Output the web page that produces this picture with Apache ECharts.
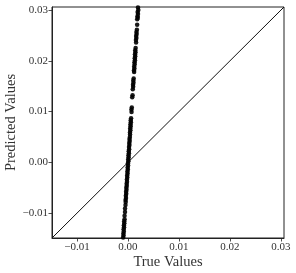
<!DOCTYPE html>
<html><head><meta charset="utf-8">
<script src="https://cdn.jsdelivr.net/npm/echarts@6/dist/echarts.min.js"></script>
<style>html,body{margin:0;padding:0;background:#fff}#c{width:296px;height:273px}</style>
</head><body><div id="c"></div>
<script>
// True values (x) and predicted values (y) of the scatter
const trueValues = [
 0.00210,0.00196,0.00203,0.00189,0.00197,0.00186,0.00192,0.00181,0.00180,
 0.00175,0.00166,0.00170,0.00160,0.00165,0.00156,0.00159,
 0.00150,0.00142,0.00147,0.00138,0.00142,0.00133,0.00137,0.00128,0.00131,0.00122,0.00126,0.00117,0.00121,
 0.00112,0.00104,0.00108,0.00099,0.00102,0.00094,
 0.00090,0.00083,
 0.00075,0.00068,0.00070,
 0.00061,0.00054,0.00057,0.00049,0.00052,0.00044,0.00047,0.00039,0.00041,
 0.00037,0.00030,0.00034,0.00025,0.00029,0.00020,0.00023,0.00015,0.00018,0.00010,0.00013,0.00005,0.00008,
 -0.00001,0.00002,-0.00006,-0.00003,-0.00011,-0.00008,-0.00016,-0.00014,-0.00021,-0.00019,-0.00026,-0.00024,
 -0.00032,-0.00029,-0.00037,-0.00034,-0.00042,-0.00039,-0.00047,-0.00045,
 -0.00049,-0.00058,-0.00058,-0.00067,
 -0.00067,-0.00074,-0.00072,-0.00080,-0.00077,-0.00085,-0.00082,-0.00090,-0.00087,-0.00095,-0.00093
];
const predictedValues = [
 0.0312,0.0305,0.0300,0.0296,0.0292,0.0288,0.0285,0.0282,0.0271,
 0.0261,0.0257,0.0253,0.0249,0.0245,0.0241,0.0236,
 0.0225,0.0221,0.0217,0.0213,0.0209,0.0205,0.0201,0.0197,0.0193,0.0189,0.0185,0.0181,0.0178,
 0.0165,0.0161,0.0157,0.0153,0.0149,0.0144,
 0.0132,0.0128,
 0.0108,0.0104,0.0099,
 0.0087,0.0083,0.0079,0.0075,0.0071,0.0067,0.0063,0.0059,0.0055,
 0.0050,0.0046,0.0042,0.0038,0.0034,0.0030,0.0026,0.0022,0.0018,0.0014,0.0010,0.0006,0.0002,
 -0.0002,-0.0006,-0.0010,-0.0014,-0.0018,-0.0022,-0.0026,-0.0030,-0.0034,-0.0038,-0.0042,-0.0046,
 -0.0050,-0.0054,-0.0058,-0.0062,-0.0066,-0.0070,-0.0074,-0.0078,
 -0.0084,-0.0091,-0.0098,-0.0105,
 -0.0112,-0.0116,-0.0120,-0.0124,-0.0128,-0.0132,-0.0136,-0.0140,-0.0144,-0.0148,-0.0153
];
// Identity line end points and axis limits
const axisMin = -0.0149;
const axisMax = 0.0306;
const identityLine = [axisMin, axisMax];
const tickValues = [-0.01, 0.00, 0.01, 0.02, 0.03];

const fmt = v => (v < 0 ? '\u2212' : '') + Math.abs(v).toFixed(2);
const font = 'Liberation Serif';

const scatterData = trueValues.map((t, i) => [t, predictedValues[i]]);
const lineData = identityLine.map(v => [v, v]);

const axisCommon = {
  type: 'value', min: axisMin, max: axisMax,
  splitLine: {show: false},
  axisLine: {show: true, onZero: false, lineStyle: {color: '#222', width: 1}},
  axisTick: {show: true, length: 3.5, customValues: tickValues, lineStyle: {color: '#222', width: 0.8}},
  nameTextStyle: {fontFamily: font, fontSize: 14.5, color: '#333'},
  nameLocation: 'middle',
  nameMoveOverlap: false
};

const chart = echarts.init(document.getElementById('c'), null, {renderer: 'canvas'});
chart.setOption({
  animation: false,
  backgroundColor: '#fff',
  grid: {left: 52, top: 7, right: 12, bottom: 35, containLabel: false, outerBoundsMode: 'none',
         show: true, borderColor: '#222', borderWidth: 1, backgroundColor: 'transparent'},
  xAxis: Object.assign({}, axisCommon, {
    name: 'True Values', nameGap: 17,
    axisLabel: {customValues: tickValues, formatter: fmt, fontFamily: font, fontSize: 11, color: '#333', margin: 4}
  }),
  yAxis: Object.assign({}, axisCommon, {
    name: 'Predicted Values', nameGap: 33,
    axisLabel: {customValues: tickValues, formatter: fmt, fontFamily: font, fontSize: 11, color: '#333', margin: 4}
  }),
  series: [
    {type: 'line', data: lineData, showSymbol: false, symbol: 'none', lineStyle: {color: '#111', width: 1}, z: 2},
    {type: 'scatter', data: scatterData, symbolSize: 4.5, itemStyle: {color: '#000', opacity: 0.9}, clip: true, z: 3}
  ]
});
</script></body></html>
